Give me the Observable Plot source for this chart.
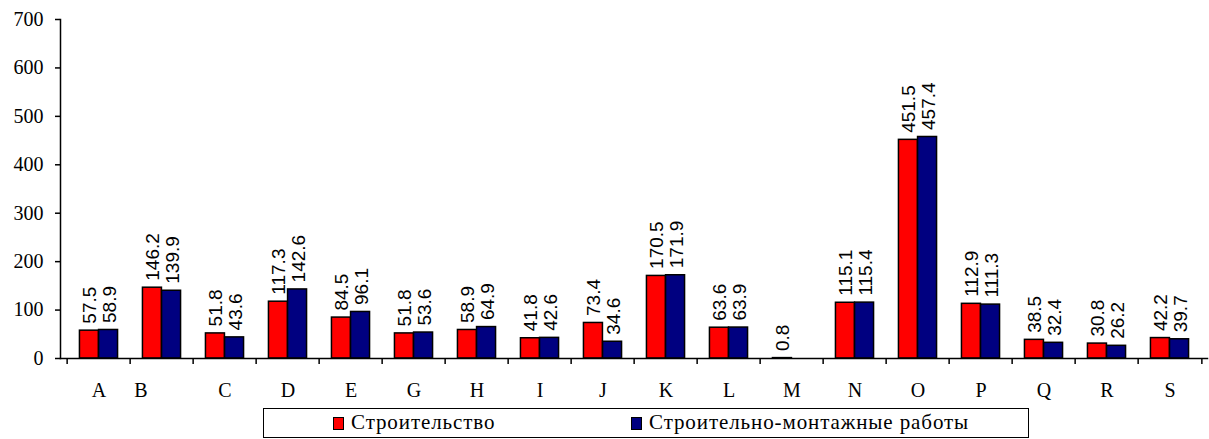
<!DOCTYPE html>
<html>
<head>
<meta charset="utf-8">
<script src="https://cdn.jsdelivr.net/npm/d3@7"></script>
<script src="https://cdn.jsdelivr.net/npm/@observablehq/plot@0.6"></script>
<style>
  body { margin: 0; background: #fff; }
  #wrap { position: relative; width: 1209px; height: 439px; background: #fff; }
  #chart svg { display: block; }
  .legend { position: absolute; left: 263px; top: 408px; width: 766px; height: 30px; box-sizing: border-box;
            border: 1.5px solid #000; font-family: "Liberation Serif", serif; font-size: 21px; letter-spacing: 0.9px; color: #000; }
  .sw { position: absolute; top: 8px; width: 11px; height: 13px; border: 1px solid #000; box-sizing: border-box; }
  .lt { position: absolute; top: 2px; line-height: 23px; white-space: nowrap; }
</style>
</head>
<body>
<div id="wrap">
  <div id="chart"></div>
  <div class="legend">
    <div class="sw" style="left:69px;background:#FF0000"></div>
    <div class="lt" id="l1" style="left:87px"></div>
    <div class="sw" style="left:367px;background:#000080"></div>
    <div class="lt" id="l2" style="left:385px"></div>
  </div>
</div>
<script>
const categories = ["A","B","C","D","E","G","H","I","J","K","L","M","N","O","P","Q","R","S"];
const seriesNames = ["Строительство", "Строительно-монтажные работы"];
const stroitelstvo = [57.5,146.2,51.8,117.3,84.5,51.8,58.9,41.8,73.4,170.5,63.6,0.8,115.1,451.5,112.9,38.5,30.8,42.2];
const smr = [58.9,139.9,43.6,142.6,96.1,53.6,64.9,42.6,34.6,171.9,63.9,null,115.4,457.4,111.3,32.4,26.2,39.7];
const yTicks = [0,100,200,300,400,500,600,700];
const colors = ["#FF0000", "#000080"];

document.getElementById("l1").textContent = seriesNames[0];
document.getElementById("l2").textContent = seriesNames[1];

const W = 1209, H = 402, ml = 60, mr = 2, mt = 19, mb = 44;
const step = (W - ml - mr) / categories.length;
const pInner = 0.7;
const bw = step * (1 - pInner);

const data = categories.map((c, i) => ({cat: c, a: stroitelstvo[i], b: smr[i]}));
const dataB = data.filter(d => d.b != null);

const serif = "Liberation Serif";
const sans = "Liberation Sans";

const chart = Plot.plot({
  width: W, height: H,
  marginLeft: ml, marginRight: mr, marginTop: mt, marginBottom: mb,
  style: {fontFamily: serif, fontSize: "20px", color: "#000", background: "#fff"},
  x: {domain: categories, paddingInner: pInner, paddingOuter: pInner / 2, axis: null, label: null},
  y: {domain: [0, 700], axis: null, label: null},
  marks: [
    Plot.barY(data, {x: "cat", y: "a", fill: colors[0], stroke: "#000", strokeWidth: 1.5, dx: -bw / 2}),
    Plot.barY(dataB, {x: "cat", y: "b", fill: colors[1], stroke: "#000", strokeWidth: 1.5, dx: bw / 2}),
    Plot.text(data, {x: "cat", y: "a", text: d => d.a.toFixed(1), rotate: -90, textAnchor: "start",
      dx: -bw / 2, dy: -7, fontFamily: sans, fontSize: 19, fill: "#000"}),
    Plot.text(dataB, {x: "cat", y: "b", text: d => d.b.toFixed(1), rotate: -90, textAnchor: "start",
      dx: bw / 2 + 1, dy: -7, fontFamily: sans, fontSize: 19, fill: "#000"}),
    Plot.frame({anchor: "left", stroke: "#000", strokeWidth: 1.5}),
    Plot.frame({anchor: "bottom", stroke: "#000", strokeWidth: 1.5}),
    Plot.axisY({ticks: yTicks, tickSize: 5, tickPadding: 12, strokeWidth: 1.5, tickFormat: d => String(d), fontSize: 20, label: null}),
    Plot.axisX({tickSize: 6, strokeWidth: 1.5, fill: "none", dx: -step / 2, label: null}),
    Plot.axisX({ticks: [categories[categories.length - 1]], tickSize: 6, strokeWidth: 1.5, fill: "none", dx: step / 2, label: null}),
    Plot.axisX({ticks: categories.filter(c => c !== "B"), tickSize: 0, tickPadding: 24, fontSize: 20, label: null}),
    Plot.axisX({ticks: ["B"], tickSize: 0, tickPadding: 24, fontSize: 20, dx: -21, label: null})
  ]
});
document.getElementById("chart").appendChild(chart);
</script>
</body>
</html>
